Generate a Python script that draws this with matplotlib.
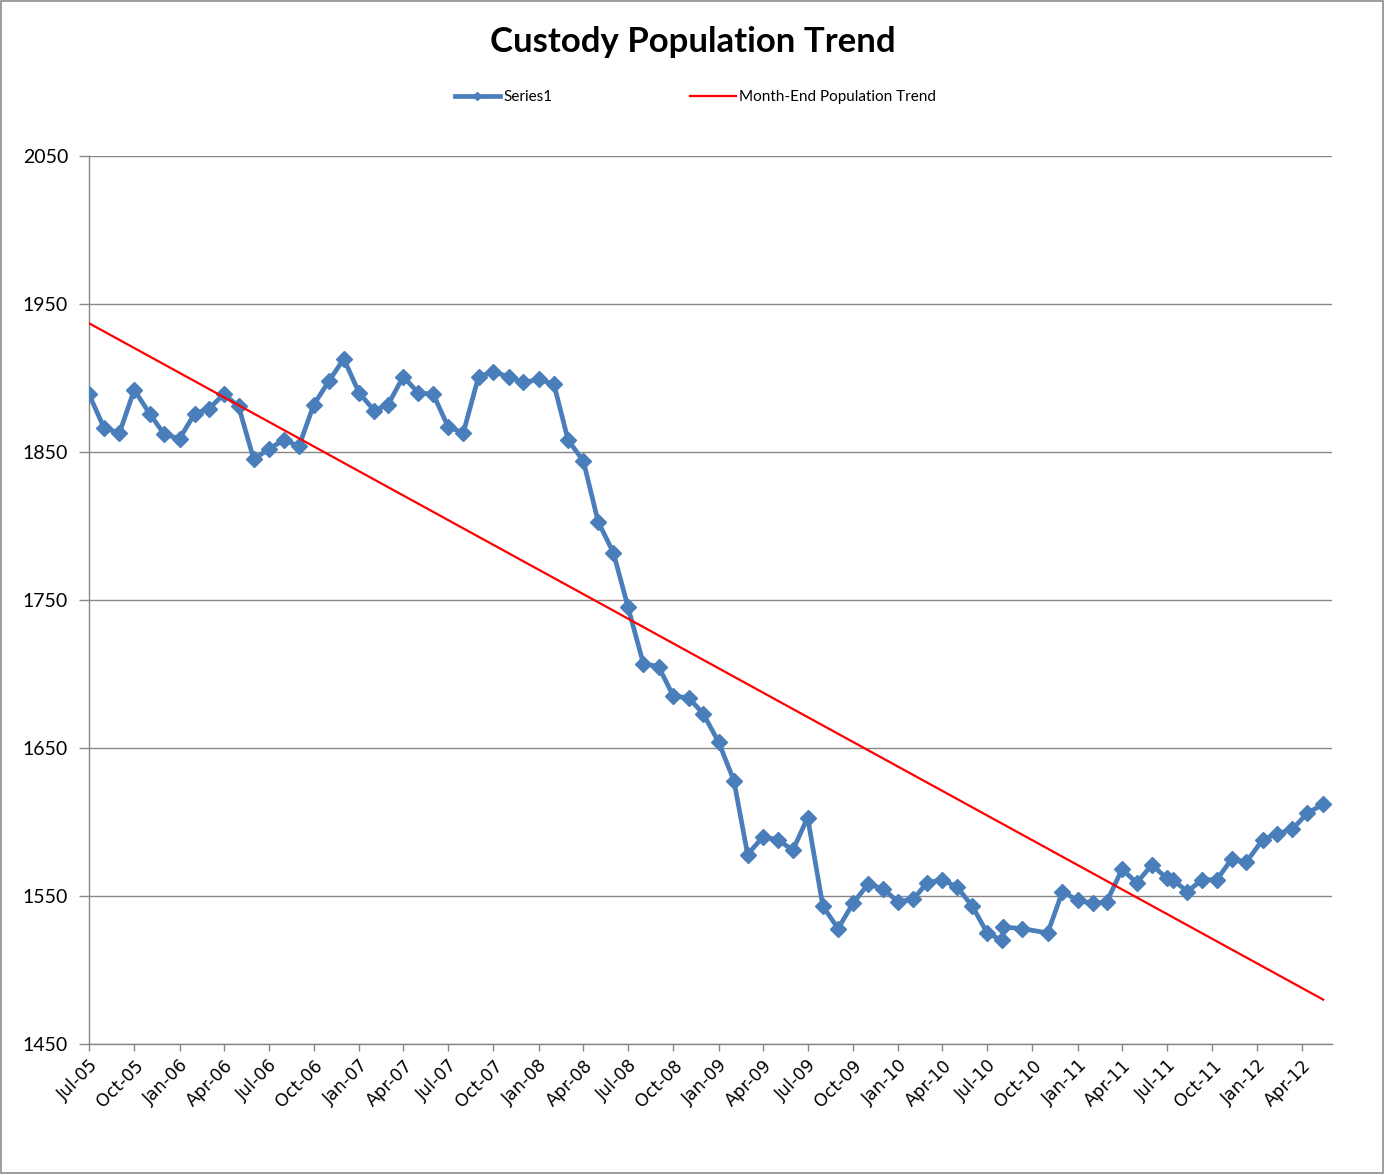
import numpy as np
import matplotlib
matplotlib.use('Agg')
import matplotlib.pyplot as plt
import matplotlib.dates as mdates
from matplotlib.patches import Rectangle

# report dates (monthly until mid-2010, then irregular)
dates = [
    '2005-07-01', '2005-08-01', '2005-09-01', '2005-10-01', '2005-11-01', '2005-12-01',
    '2006-01-01', '2006-02-01', '2006-03-01', '2006-04-01', '2006-05-01', '2006-06-01',
    '2006-07-01', '2006-08-01', '2006-09-01', '2006-10-01', '2006-11-01', '2006-12-01',
    '2007-01-01', '2007-02-01', '2007-03-01', '2007-04-01', '2007-05-01', '2007-06-01',
    '2007-07-01', '2007-08-01', '2007-09-01', '2007-10-01', '2007-11-01', '2007-12-01',
    '2008-01-01', '2008-02-01', '2008-03-01', '2008-04-01', '2008-05-01', '2008-06-01',
    '2008-07-01', '2008-08-01', '2008-09-01', '2008-10-01', '2008-11-01', '2008-12-01',
    '2009-01-01', '2009-02-01', '2009-03-01', '2009-04-01', '2009-05-01', '2009-06-01',
    '2009-07-01', '2009-08-01', '2009-09-01', '2009-10-01', '2009-11-01', '2009-12-01',
    '2010-01-01', '2010-02-01', '2010-03-01', '2010-04-01', '2010-05-01', '2010-06-01',
    '2010-07-01', '2010-08-01', '2010-08-02', '2010-09-10', '2010-11-01', '2010-12-01',
    '2011-01-01', '2011-02-01', '2011-03-01', '2011-04-01', '2011-05-01', '2011-06-01',
    '2011-07-01', '2011-07-13', '2011-08-12', '2011-09-11', '2011-10-11', '2011-11-10',
    '2011-12-10', '2012-01-12', '2012-02-10', '2012-03-12', '2012-04-12', '2012-05-14',
]

population = [
    1889, 1866, 1863, 1892, 1876, 1862,
    1859, 1876, 1879, 1889, 1881, 1845, 1852, 1858, 1854, 1882, 1898, 1913,
    1890, 1878, 1882, 1901, 1890, 1889, 1867, 1863, 1901, 1904, 1901, 1897,
    1899, 1896, 1858, 1844, 1803, 1782, 1745, 1707, 1705, 1685, 1684, 1673,
    1654, 1628, 1578, 1590, 1588, 1581, 1603, 1543, 1528, 1545, 1558, 1555,
    1546, 1548, 1559, 1561, 1556, 1543, 1525, 1520, 1529, 1528, 1525, 1553,
    1547, 1545, 1546, 1568, 1559, 1571, 1562, 1561, 1553, 1561, 1561, 1575,
    1573, 1588, 1592, 1595, 1606, 1612,
]

# linear trend line, read at its two ends
trend_dates = ['2005-07-01', '2012-05-14']
trend_values = [1937, 1480]

tick_labels = ['Jul-05', 'Oct-05', 'Jan-06', 'Apr-06', 'Jul-06', 'Oct-06', 'Jan-07',
               'Apr-07', 'Jul-07', 'Oct-07', 'Jan-08', 'Apr-08', 'Jul-08', 'Oct-08',
               'Jan-09', 'Apr-09', 'Jul-09', 'Oct-09', 'Jan-10', 'Apr-10', 'Jul-10',
               'Oct-10', 'Jan-11', 'Apr-11', 'Jul-11', 'Oct-11', 'Jan-12', 'Apr-12']

x = np.array(dates, dtype='datetime64[D]')
xt = np.array(trend_dates, dtype='datetime64[D]')

fig = plt.figure(figsize=(13.85, 11.75), dpi=100)
ax = fig.add_axes([89 / 1385, 1 - 1044 / 1175, 1243 / 1385, 888 / 1175])

ax.plot(x, population, color='#4A7EBB', linewidth=3.4, marker='D', markersize=8.5,
        label='Series1', zorder=3)
ax.plot(xt, trend_values, color='#FF0000', linewidth=1.6,
        label='Month-End Population Trend', zorder=4)

ax.set_ylim(1450, 2050)
ax.set_yticks(np.arange(1450, 2051, 100))
ax.set_xlim(np.datetime64('2005-07-01'), np.datetime64('2012-06-01'))
ax.xaxis.set_major_locator(mdates.MonthLocator(bymonth=[1, 4, 7, 10]))
ax.set_xticks(ax.get_xticks())
ax.set_xticklabels(tick_labels, rotation=45, ha='right', rotation_mode='anchor',
                   fontsize=12.5, family='DejaVu Sans')
for lab in ax.get_yticklabels():
    lab.set_family('Lato')
    lab.set_fontsize(14)

ax.grid(axis='y', color='#868686', linewidth=1.0)
ax.set_axisbelow(True)
for s in ['top', 'right']:
    ax.spines[s].set_visible(False)
for s in ['left', 'bottom']:
    ax.spines[s].set_color('#868686')
    ax.spines[s].set_linewidth(1.0)
ax.tick_params(axis='both', colors='#868686', labelcolor='black')
ax.tick_params(axis='y', length=7, width=1.0, pad=8)
ax.tick_params(axis='x', length=5, width=1.0, pad=4)

fig.text(0.5, 1 - 42 / 1175, 'Custody Population Trend', ha='center', va='center',
         fontsize=25, fontweight='bold', family='Lato')

fig.legend(loc='center', bbox_to_anchor=(0.502, 1 - 97 / 1175), ncol=2, frameon=False,
           handlelength=3.0, columnspacing=9.0, handletextpad=0.2,
           prop={'family': 'Lato', 'size': 11}, markerscale=0.45)

fig.patches.append(Rectangle((0.0005, 0.002), 0.998, 0.997, transform=fig.transFigure,
                             fill=False, edgecolor='#8c8c8c', linewidth=1.2))

fig.savefig('out.png', dpi=100)
